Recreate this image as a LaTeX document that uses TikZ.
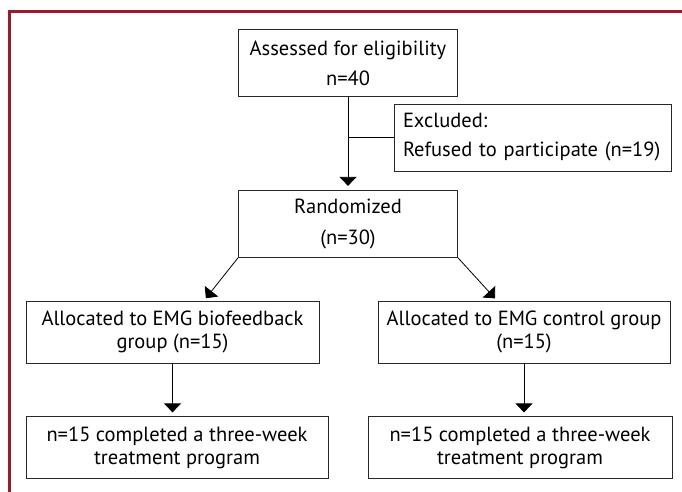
\documentclass[tikz,border=0pt]{standalone}
\usepackage{fontspec}
\setmainfont{PT Sans}
\usetikzlibrary{arrows.meta, positioning}
\definecolor{framered}{RGB}{155,28,38}
\definecolor{boxline}{RGB}{40,40,40}
\tikzset{
  box/.style={
    rectangle, draw=boxline, line width=0.8bp, inner sep=0pt,
    align=center, font=\fontsize{20.5bp}{23bp}\selectfont
  },
  topbox/.style={box, minimum width=219bp, minimum height=67bp},
  grpbox/.style={box, minimum height=62bp},
  arr/.style={-{Triangle[width=17bp,length=9bp]}, line width=0.8bp, shorten >=4bp},
  lne/.style={line width=0.8bp}
}

\begin{document}
\begin{tikzpicture}[x=1bp, y=-1bp]
  \useasboundingbox (0,0) rectangle (682,492);
  % frame
  \draw[framered, line width=3bp] (9.5,492) -- (9.5,11.5) -- (682,11.5);

  \node[topbox] (assess) at (348,63)
        {Assessed for eligibility\\[7bp]n=40};
  \node[topbox, below=93bp of assess] (rand)
        {Randomized\\[8bp](n=30)};
  \node[box, align=left, text width=259bp, inner xsep=9bp,
        minimum height=67bp] (excl) at (532.5,137.5)
        {Excluded:\\[6bp]Refused to participate (n=19)};

  \node[grpbox, minimum width=293bp] (allocB) at (172.5,332)
        {Allocated to EMG biofeedback\\group (n=15)};
  \node[grpbox, minimum width=292bp] (allocC) at (524,332)
        {Allocated to EMG control group\\(n=15)};
  \node[grpbox, minimum width=302bp, below=53bp of allocB, xshift=4.5bp] (doneB)
        {n=15 completed a three-week\\treatment program};
  \node[grpbox, minimum width=304bp, below=53bp of allocC, xshift=-4bp] (doneC)
        {n=15 completed a three-week\\treatment program};

  \draw[arr] (assess) -- (rand);
  \draw[lne] (assess.south |- excl.west) -- (excl.west);
  \draw[arr, shorten >=3bp] (rand.south west) -- ([xshift=31.5bp]allocB.north);
  \draw[arr, shorten >=3bp] (rand.south east) -- ([xshift=-27bp]allocC.north);
  \draw[arr] (allocB.south) -- (allocB.south |- doneB.north);
  \draw[arr] (allocC) -- (doneC.north -| allocC);
\end{tikzpicture}
\end{document}
